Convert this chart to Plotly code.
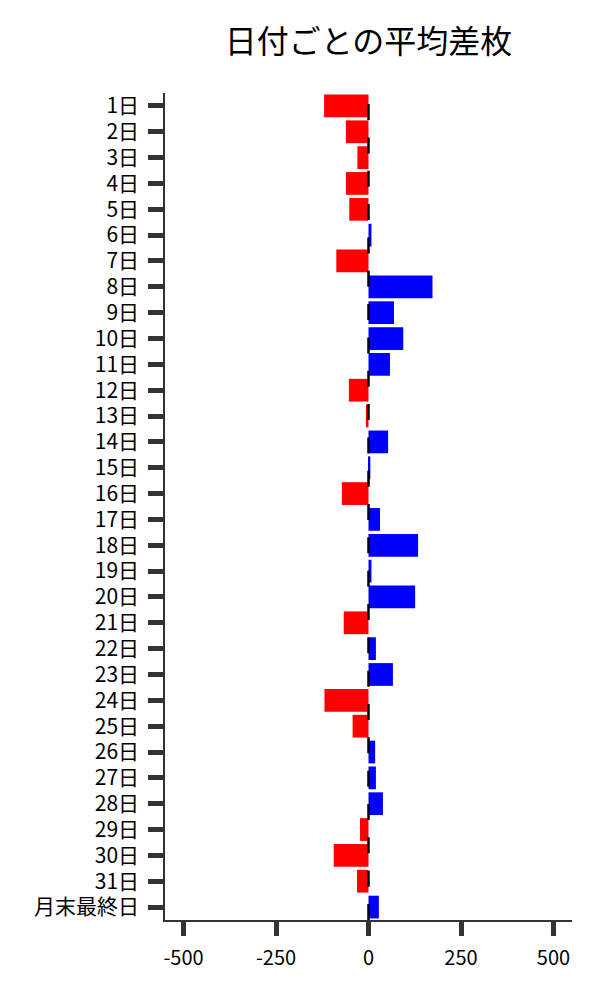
import plotly.graph_objects as go

days = [f"{d}日" for d in range(1, 32)] + ["月末最終日"]
avg_diff = [
    -120, -61, -30, -61, -52, 8, -87, 173, 69, 94, 58,
    -53, -7, 53, 5, -72, 31, 134, 8, 126, -67, 20,
    66, -119, -43, 18, 20, 39, -23, -94, -31, 28,
]
x_ticks = [-500, -250, 0, 250, 500]
x_tick_text = ["-500", "-250", "0", "250", "500"]

colors = ["#ff0000" if v < 0 else "#0000ff" for v in avg_diff]

fig = go.Figure(
    go.Bar(
        x=avg_diff,
        y=days,
        orientation="h",
        marker=dict(color=colors, line=dict(width=0)),
    )
)

# dashed zero line
fig.add_shape(
    type="line", xref="x", yref="paper",
    x0=0, x1=0, y0=0, y1=1,
    line=dict(color="black", width=2.5, dash="16px,17.33px"),
    layer="above",
)

fig.update_layout(
    width=600, height=1000,
    font=dict(family="Noto Sans CJK JP", size=20, color="black"),
    title=dict(
        text="日付ごとの平均差枚",
        x=0.5, xref="paper", xanchor="center",
        y=1 - 34 / 1000, yanchor="middle",
        font=dict(size=32),
    ),
    margin=dict(l=157, r=36, t=85, b=88),
    plot_bgcolor="white",
    paper_bgcolor="white",
    bargap=0.12,
    showlegend=False,
)
fig.update_xaxes(
    range=[-550, 550],
    tickvals=x_ticks, ticktext=x_tick_text,
    ticks="outside", ticklen=14, tickwidth=5, tickcolor="#333333",
    ticklabelstandoff=5,
    showline=True, linecolor="#333333", linewidth=1.5,
    showgrid=False, zeroline=False, automargin=False,
)
fig.update_yaxes(
    autorange="reversed",
    tickfont=dict(size=21),
    ticks="outside", ticklen=15, tickwidth=5, tickcolor="#333333",
    ticklabelstandoff=5,
    showline=True, linecolor="#333333", linewidth=1.5,
    showgrid=False, zeroline=False, automargin=False,
)

fig.write_html("out.html")
